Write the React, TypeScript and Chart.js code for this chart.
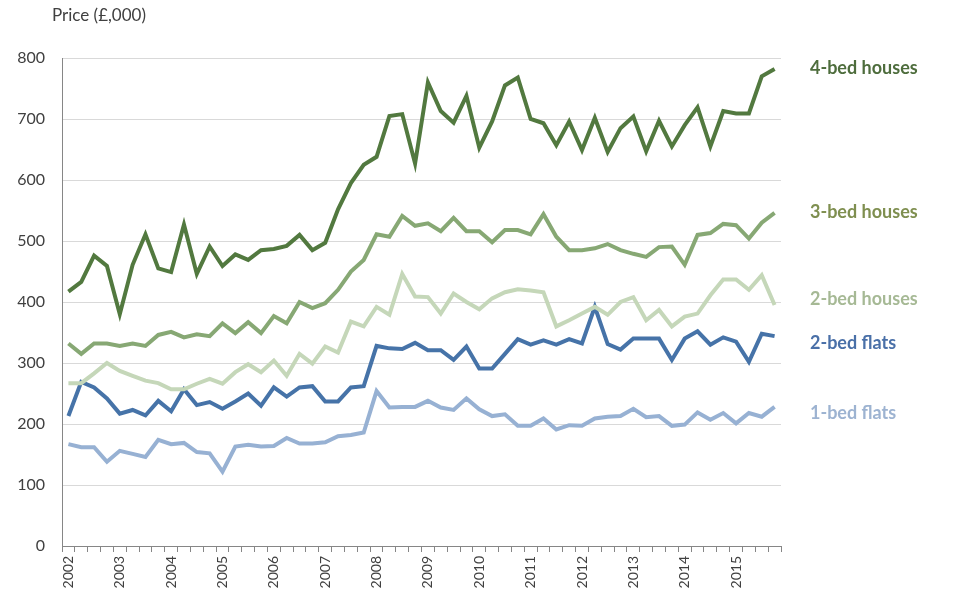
import React, { useEffect, useRef } from "react";
import { Chart, registerables } from "chart.js";

Chart.register(...registerables);

const years = ["2002", "2003", "2004", "2005", "2006", "2007", "2008", "2009", "2010", "2011", "2012", "2013", "2014", "2015"];
const quarters = ["Q1", "Q2", "Q3", "Q4"];
const categories = years.flatMap((y) => quarters.map((q) => `${y} ${q}`));

const fourBedHouses = [417, 433, 476, 459, 380, 461, 511, 455, 449, 527, 446, 491, 459, 478, 469, 485, 487, 492, 510, 485, 497, 552, 595, 625, 638, 705, 708, 627, 760, 713, 694, 738, 653, 696, 755, 768, 700, 693, 657, 696, 649, 702, 646, 685, 704, 647, 697, 655, 690, 719, 655, 713, 709, 709, 770, 782];
const threeBedHouses = [332, 315, 332, 332, 328, 332, 328, 346, 351, 342, 347, 344, 365, 349, 367, 349, 377, 365, 400, 390, 398, 420, 450, 469, 511, 507, 541, 525, 529, 516, 538, 516, 516, 498, 518, 518, 511, 544, 507, 485, 485, 488, 495, 485, 479, 474, 490, 491, 461, 510, 513, 528, 526, 504, 530, 546];
const twoBedHouses = [267, 267, 283, 300, 287, 279, 271, 267, 257, 257, 266, 274, 266, 285, 298, 285, 304, 279, 315, 299, 327, 317, 368, 360, 392, 379, 446, 409, 408, 381, 414, 400, 388, 406, 416, 421, 419, 416, 360, 370, 381, 392, 379, 400, 408, 370, 387, 360, 376, 381, 411, 437, 437, 420, 444, 395];
const twoBedFlats = [213, 269, 260, 242, 217, 223, 214, 238, 221, 257, 231, 236, 225, 237, 250, 230, 260, 245, 260, 262, 237, 237, 260, 262, 328, 324, 323, 333, 321, 321, 305, 327, 291, 291, 315, 339, 330, 337, 330, 339, 332, 392, 331, 322, 340, 340, 340, 305, 340, 352, 330, 342, 335, 302, 348, 344];
const oneBedFlats = [167, 162, 162, 138, 156, 151, 146, 174, 167, 169, 154, 152, 122, 163, 166, 163, 164, 177, 168, 168, 170, 180, 182, 186, 254, 227, 228, 228, 238, 227, 223, 242, 224, 213, 216, 197, 197, 209, 191, 198, 197, 209, 212, 213, 225, 211, 213, 197, 199, 219, 207, 218, 201, 218, 212, 228];

const seriesNames = ["4-bed houses", "3-bed houses", "2-bed houses", "2-bed flats", "1-bed flats"];
const seriesValues = [fourBedHouses, threeBedHouses, twoBedHouses, twoBedFlats, oneBedFlats];
const lineColors = ["#52793f", "#87a874", "#c5d7b9", "#4673a8", "#97b1d3"];
const labelColors = ["#4e6d3d", "#7f8f50", "#a6b995", "#4a70a8", "#9db3d1"];
const labelAnchorValues = [784, 548, 405, 333, 218];

const yAxisTitle = "Price (£,000)";
const yMax = 800;
const yStep = 100;

const FONT = "Lato, 'Open Sans', sans-serif";

const endLabelsPlugin = {
  id: "endLabels",
  afterDraw(chart: any) {
    const { ctx, chartArea, scales } = chart;
    ctx.save();
    ctx.textBaseline = "middle";
    ctx.textAlign = "left";
    ctx.font = `bold 18px ${FONT}`;
    chart.data.datasets.forEach((ds: any, i: number) => {
      ctx.fillStyle = labelColors[i];
      ctx.fillText(ds.label, chartArea.right + 29, scales.y.getPixelForValue(labelAnchorValues[i]));
    });
    ctx.font = `17px ${FONT}`;
    ctx.fillStyle = "#404040";
    ctx.fillText(yAxisTitle, 52, 16);
    ctx.restore();
  },
};

export default function App() {
  const canvasRef = useRef<HTMLCanvasElement | null>(null);

  useEffect(() => {
    if (!canvasRef.current) return;
    const chart = new Chart(canvasRef.current, {
      type: "line",
      data: {
        labels: categories,
        datasets: seriesNames.map((name, i) => ({
          label: name,
          data: seriesValues[i],
          borderColor: lineColors[i],
          backgroundColor: lineColors[i],
          borderWidth: 4,
          pointRadius: 0,
          tension: 0,
          fill: false,
        })),
      },
      options: {
        responsive: false,
        animation: false,
        layout: { padding: { top: 58, right: 195, left: 0, bottom: 0 } },
        plugins: {
          legend: { display: false },
          title: { display: false },
          tooltip: { enabled: false },
        },
        scales: {
          x: {
            type: "category",
            offset: true,
            afterFit: (s: any) => {
              s.height = 59;
            },
            grid: {
              display: true,
              offset: true,
              drawOnChartArea: false,
              drawTicks: true,
              tickLength: 6,
              color: "#868686",
            },
            border: { display: true, color: "#868686", width: 1 },
            ticks: {
              autoSkip: false,
              maxRotation: 90,
              minRotation: 90,
              padding: 4,
              color: "#404040",
              font: { family: FONT, size: 14 },
              callback: (_v: any, index: number) => (index % 4 === 0 ? categories[index].slice(0, 4) : ""),
            },
          },
          y: {
            min: 0,
            max: yMax,
            afterFit: (s: any) => {
              s.width = 62;
            },
            grid: {
              color: (c: any) => (c.tick && c.tick.value === 0 ? "#868686" : "#d9d9d9"),
              lineWidth: 1,
              drawTicks: false,
            },
            border: { display: true, color: "#868686", width: 1 },
            ticks: {
              stepSize: yStep,
              padding: 17,
              color: "#404040",
              font: { family: FONT, size: 16 },
            },
          },
        },
      },
      plugins: [endLabelsPlugin],
    } as any);
    return () => chart.destroy();
  }, []);

  return (
    <div style={{ position: "absolute", left: 0, top: 0, width: 976, height: 605, background: "#fff" }}>
      <canvas ref={canvasRef} width={976} height={605} style={{ width: 976, height: 605, display: "block" }} />
    </div>
  );
}
